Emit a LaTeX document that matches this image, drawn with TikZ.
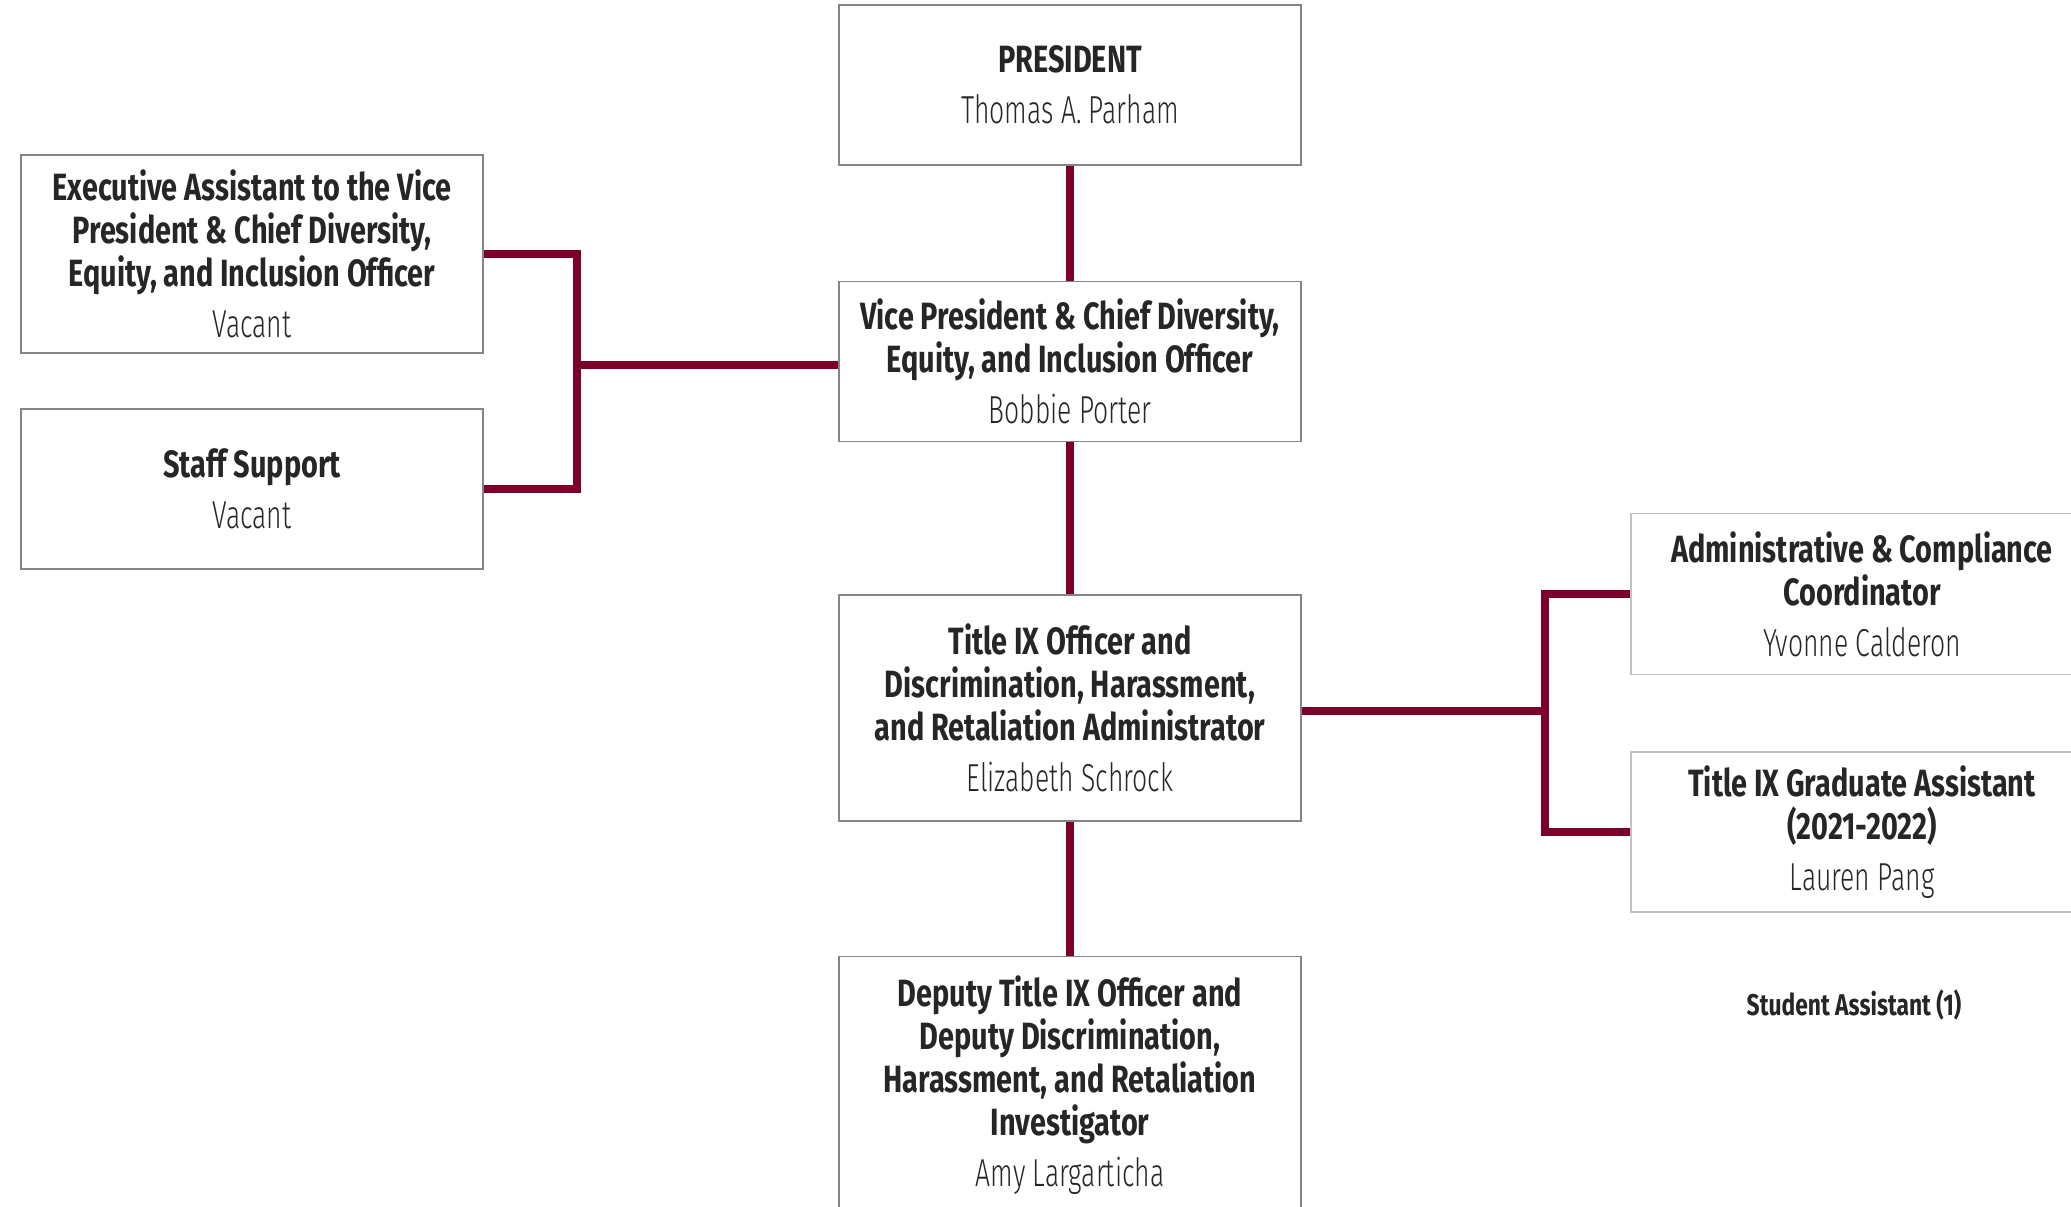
\documentclass[tikz,border=0pt]{standalone}
\usepackage{fontspec}
\setmainfont{Fira Sans}[FakeStretch=0.76]
\newfontfamily\namefont{Fira Sans Light}[FakeStretch=0.68]
\usepackage{xcolor}
\usetikzlibrary{positioning}

\definecolor{maroon}{HTML}{7D002C}
\definecolor{frame}{HTML}{858585}
\newcommand{\who}[1]{{\namefont\mdseries\fontsize{19.5}{22}\selectfont #1}}

\begin{document}
\begin{tikzpicture}[
			x=0.5pt, y=-0.5pt,
			node distance=60pt,
			role/.style={rectangle, draw=frame, line width=0.75pt, minimum width=231pt, minimum height=80pt, inner sep=2pt, align=center, text=black!85, font=\bfseries\fontsize{19}{21.5}\selectfont},
			sidebox/.style={role, draw=frame!50},
			link/.style={draw, maroon, line width=3.6pt, line join=miter}
			]
			\useasboundingbox (0,0) rectangle (2071,1206);
			
			% central column
			\node (pres) [role] at (1070,85) {PRESIDENT\\[4pt]\who{Thomas A. Parham}};
			\node (vp) [role, below=57.5pt of pres] {Vice President \& Chief Diversity,\\Equity, and Inclusion Officer\\[4pt]\who{Bobbie Porter}};
			\node (tix) [role, below=76pt of vp, minimum height=113pt] {Title IX Officer and\\Discrimination, Harassment,\\and Retaliation Administrator\\[4pt]\who{Elizabeth Schrock}};
			\node (dep) [role, below=67pt of tix, minimum height=129pt] {Deputy Title IX Officer and\\Deputy Discrimination,\\Harassment, and Retaliation\\Investigator\\[4pt]\who{Amy Largarticha}};
			
			% left and right branches
			\node (exec) [role, minimum height=99pt] at (252,254) {Executive Assistant to the Vice\\President \& Chief Diversity,\\Equity, and Inclusion Officer\\[4pt]\who{Vacant}};
			\node (staff) [role] at (252,489) {Staff Support\\[4pt]\who{Vacant}};
			\node (adm) [sidebox, minimum height=80.5pt] at (1862,594) {Administrative \& Compliance\\Coordinator\\[4pt]\who{Yvonne Calderon}};
			\node (grad) [sidebox] at (1862,832) {Title IX Graduate Assistant\\(2021-2022)\\[4pt]\who{Lauren Pang}};
			\node (stud) [text=black!85, font=\bfseries\fontsize{15}{17}\selectfont] at (1854,1005) {Student Assistant (1)};
			
			\coordinate (ljoin) at (577,365);
			\coordinate (rjoin) at (1545,711);
			
			% connectors
			\draw [link] (pres) -- (vp);
			\draw [link] (vp) -- (tix);
			\draw [link] (tix) -- (dep);
			\draw [link] (ljoin -| vp.west) -- (ljoin);
			\draw [link] (exec.east) -| (ljoin) |- (staff.east);
			\draw [link] (rjoin -| tix.east) -- (rjoin);
			\draw [link] (adm.west) -| (rjoin) |- (grad.west);
			
		\end{tikzpicture}
\end{document}
